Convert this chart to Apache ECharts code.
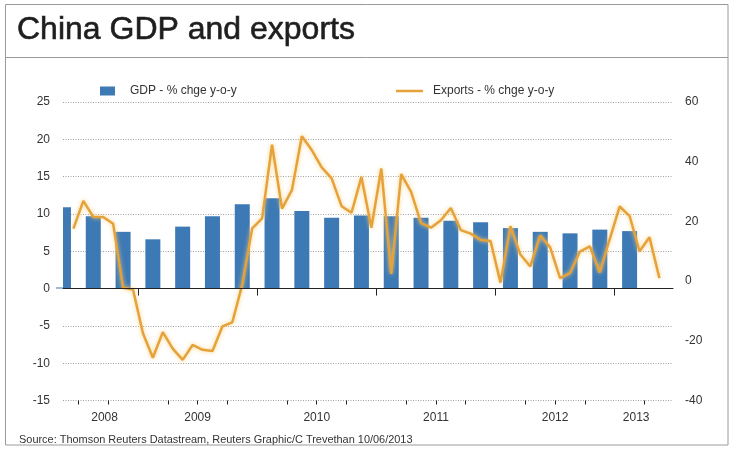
<!DOCTYPE html>
<html>
<head>
<meta charset="utf-8">
<script src="https://cdn.jsdelivr.net/npm/echarts@6/dist/echarts.min.js"></script>
<style>
html,body{margin:0;padding:0;background:#fff;}
#chart{width:736px;height:451px;}
</style>
</head>
<body>
<div id="chart"></div>
<script>
// ---- Data ----
const titleText = 'China GDP and exports';
const sourceText = 'Source: Thomson Reuters Datastream, Reuters Graphic/C Trevethan 10/06/2013';
const gdpName = 'GDP - % chge y-o-y';
const exportsName = 'Exports - % chge y-o-y';

const gdpQuarters = ['2008Q2','2008Q3','2008Q4','2009Q1','2009Q2','2009Q3','2009Q4','2010Q1','2010Q2','2010Q3','2010Q4',
  '2011Q1','2011Q2','2011Q3','2011Q4','2012Q1','2012Q2','2012Q3','2012Q4','2013Q1'];
const gdpValues = [10.9, 9.7, 7.6, 6.6, 8.3, 9.7, 11.3, 12.1, 10.4, 9.5, 9.8,
  9.7, 9.5, 9.1, 8.9, 8.1, 7.6, 7.4, 7.9, 7.7];

const exportMonths = [
  '2008-06','2008-07','2008-08','2008-09','2008-10','2008-11','2008-12',
  '2009-01','2009-02','2009-03','2009-04','2009-05','2009-06','2009-07','2009-08','2009-09','2009-10','2009-11','2009-12',
  '2010-01','2010-02','2010-03','2010-04','2010-05','2010-06','2010-07','2010-08','2010-09','2010-10','2010-11','2010-12',
  '2011-01','2011-02','2011-03','2011-04','2011-05','2011-06','2011-07','2011-08','2011-09','2011-10','2011-11','2011-12',
  '2012-01','2012-02','2012-03','2012-04','2012-05','2012-06','2012-07','2012-08','2012-09','2012-10','2012-11','2012-12',
  '2013-01','2013-02','2013-03','2013-04','2013-05'];
const exportValues = [
  17.6, 26.9, 21.5, 21.5, 19.2, -2.2, -2.8,
  -17.5, -25.7, -17.1, -22.6, -26.4, -21.4, -23.0, -23.4, -15.2, -13.8, -1.2, 17.7,
  21.0, 45.7, 24.3, 30.5, 48.5, 43.9, 38.1, 34.4, 25.1, 22.9, 34.9, 17.9,
  37.7, 2.4, 35.8, 29.9, 19.4, 17.9, 20.4, 24.5, 17.1, 15.9, 13.8, 13.4,
  -0.5, 18.4, 8.9, 4.9, 15.3, 11.3, 1.0, 2.7, 9.9, 11.6, 2.9, 14.1,
  25.0, 21.8, 10.0, 14.7, 1.0];

const yearLabels = ['2008','2009','2010','2011','2012','2013'];
const leftTicks = { min: -15, max: 25, interval: 5 };
const rightTicks = { min: -40, max: 60, interval: 20 };

// ---- Helpers (convert dates to fractional years) ----
function monthPos(s){ const [y,m] = s.split('-').map(Number); return y + (m - 0.5) / 12; }
function quarterPos(s){ const y = +s.slice(0,4), q = +s.slice(5); return y + (3*q - 1.5) / 12; }

const xMin = 2008.371, xMax = 2013.489;
const yearTickVals = [2009, 2010, 2011, 2012, 2013];
const quarterTickVals = [];
for (let y = 2008; y <= 2013; y++) for (let q = 1; q < 4; q++) {
  const v = y + q/4; if (v > xMin && v < xMax) quarterTickVals.push(v);
}
// label positions: centre of each year's months shown
const labelVals = [2008.72, 2009.5, 2010.5, 2011.5, 2012.5, 2013.18];

const gdpData = gdpQuarters.map((q,i) => [quarterPos(q), gdpValues[i]]);
const expData = exportMonths.map((m,i) => [monthPos(m), exportValues[i]]);

const FONT = '"Liberation Sans", Arial, sans-serif';
const gridRect = { left: 63, right: 63, top: 102, height: 298.5 };

const chart = echarts.init(document.getElementById('chart'));
chart.setOption({
  animation: false,
  backgroundColor: '#fff',
  textStyle: { fontFamily: FONT },
  title: [
    { text: titleText, left: 12, top: 9, textStyle: { fontFamily: FONT, fontSize: 32, fontWeight: 'normal', color: '#1e1e1e', textBorderColor: '#1e1e1e', textBorderWidth: 0.6 } },
    { text: sourceText, left: 14, top: 429, textStyle: { fontFamily: FONT, fontSize: 10.95, fontWeight: 'normal', color: '#333' } }
  ],
  graphic: [
    { type: 'rect', shape: { x: 5.5, y: 4.5, width: 722.5, height: 440.5 }, style: { fill: 'none', stroke: '#9a9a9a', lineWidth: 1 }, silent: true },
    { type: 'line', shape: { x1: 5.5, y1: 57.5, x2: 728, y2: 57.5 }, style: { stroke: '#9a9a9a', lineWidth: 1 }, silent: true },
    // white mask: keeps the first (partial) bar inside the plot area
    { type: 'rect', z: 100, shape: { x: 51, y: 150, width: 12, height: 137.5 }, style: { fill: '#fff' }, silent: true }
  ],
  legend: [
    { data: [gdpName], left: 95, top: 80, icon: 'rect', itemWidth: 15, itemHeight: 9, selectedMode: false,
      textStyle: { fontFamily: FONT, fontSize: 12, color: '#333', padding: [0,0,0,10] } },
    { data: [exportsName], left: 391, top: 80, icon: 'rect', itemWidth: 27, itemHeight: 2.5, selectedMode: false,
      textStyle: { fontFamily: FONT, fontSize: 12, color: '#333', padding: [0,0,0,5] } }
  ],
  grid: [
    Object.assign({}, gridRect),
    Object.assign({}, gridRect)
  ],
  xAxis: [
    { type: 'value', gridIndex: 0, min: xMin, max: xMax,
      axisLine: { show: true, lineStyle: { color: '#222', width: 1 } },
      axisTick: { show: true, customValues: yearTickVals, length: 7, lineStyle: { color: '#222' } },
      axisLabel: { show: true, customValues: labelVals, margin: 11, fontSize: 12, color: '#333', fontFamily: FONT,
        formatter: v => String(Math.floor(v)) },
      splitLine: { show: false } },
    { type: 'value', gridIndex: 1, min: xMin, max: xMax,
      axisLine: { show: false },
      axisTick: { show: true, customValues: quarterTickVals, length: 4, lineStyle: { color: '#222' } },
      axisLabel: { show: false },
      splitLine: { show: false } }
  ],
  yAxis: [
    { type: 'value', gridIndex: 0, position: 'left', min: leftTicks.min, max: leftTicks.max, interval: leftTicks.interval,
      axisLine: { show: false }, axisTick: { show: false },
      axisLabel: { margin: 13, fontSize: 12, color: '#333', fontFamily: FONT },
      splitLine: { show: true, lineStyle: { color: '#a0a0a0', type: [1, 1.5], width: 1 } } },
    { type: 'value', gridIndex: 0, position: 'right', min: rightTicks.min, max: rightTicks.max, interval: rightTicks.interval,
      alignTicks: false,
      axisLine: { show: false }, axisTick: { show: false },
      axisLabel: { margin: 12, fontSize: 12, color: '#333', fontFamily: FONT },
      splitLine: { show: false } },
    { type: 'value', gridIndex: 1, min: 0, max: 1, show: false }
  ],
  series: [
    { name: gdpName, type: 'bar', xAxisIndex: 0, yAxisIndex: 0, data: gdpData, barWidth: 15,
      itemStyle: { color: '#3d79b4' },
      markLine: { silent: true, symbol: 'none', label: { show: false },
        lineStyle: { color: '#222', type: 'solid', width: 1 }, data: [{ yAxis: 0 }] } },
    { name: exportsName, type: 'line', xAxisIndex: 0, yAxisIndex: 1, data: expData,
      showSymbol: false, symbol: 'none', z: 3,
      itemStyle: { color: '#e6a23a' },
      lineStyle: { color: '#e6a23a', width: 2.5, shadowColor: 'rgba(248,205,120,0.9)', shadowBlur: 4 } }
  ]
});
</script>
</body>
</html>
